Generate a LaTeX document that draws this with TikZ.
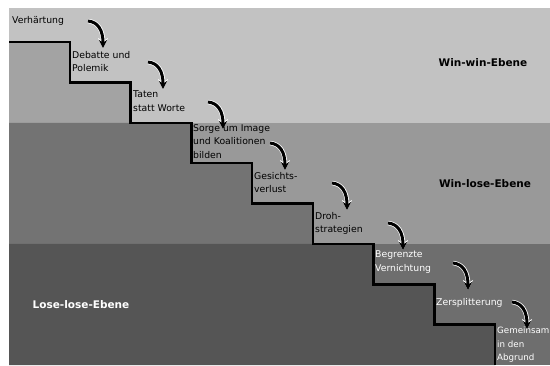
\documentclass[tikz,border=0pt]{standalone}
\usepackage{fontspec}
\setmainfont{DejaVu Sans}
\usetikzlibrary{arrows.meta}
\definecolor{topband}{HTML}{C2C2C2}
\definecolor{topunder}{HTML}{A3A3A3}
\definecolor{midband}{HTML}{999999}
\definecolor{midunder}{HTML}{737373}
\definecolor{botband}{HTML}{6E6E6E}
\definecolor{botunder}{HTML}{555555}
\tikzset{
  steplabel/.style={anchor=north west, inner sep=0pt, align=left, font=\fontsize{9.3}{13.5}\selectfont},
  levellabel/.style={inner sep=0pt, font=\fontsize{10.5}{13}\selectfont\bfseries},
  halo/.style={white, line width=4.5pt, -{Stealth[length=10pt,width=10pt]}},
  curvearrow/.style={black, line width=3pt, -{Stealth[length=8pt,width=8pt]}},
  stairline/.style={black, line width=2.5pt, line join=miter}
}
\begin{document}
\begin{tikzpicture}[x=1pt,y=-1pt]
\useasboundingbox (0,0) rectangle (550,365);
\fill[white] (0,0) rectangle (550,365);
% bands
\fill[topband] (9,8) rectangle (550,122.75);
\fill[midband] (9,122.75) rectangle (550,243.9);
\fill[botband] (9,243.9) rectangle (550,365);
% under stairs
\fill[topunder] (9,42) -- (69.75,42) -- (69.75,82.4) -- (130.5,82.4) -- (130.5,122.75) -- (9,122.75) -- cycle;
\fill[midunder] (9,122.75) -- (191.25,122.75) -- (191.25,163.1) -- (252,163.1) -- (252,203.5) -- (312.75,203.5) -- (312.75,243.9) -- (9,243.9) -- cycle;
\fill[botunder] (9,243.9) -- (373.5,243.9) -- (373.5,284.25) -- (434.25,284.25) -- (434.25,324.6) -- (495,324.6) -- (495,365) -- (9,365) -- cycle;
% stair line
\draw[stairline] (9,42) -- (69.75,42) -- (69.75,82.4) -- (130.5,82.4) -- (130.5,122.75) -- (191.25,122.75) -- (191.25,163.1) -- (252,163.1) -- (252,203.5) -- (312.75,203.5) -- (312.75,243.9) -- (373.5,243.9) -- (373.5,284.25) -- (434.25,284.25) -- (434.25,324.6) -- (495,324.6) -- (495,365);
% step labels
\node[steplabel] (l0) at (12,16) {Verhärtung};
\node[steplabel] (l1) at (72,51) {Debatte und\\Polemik};
\node[steplabel] (l2) at (133,91) {Taten\\statt Worte};
\node[steplabel] (l3) at (193,124) {Sorge um Image\\und Koalitionen\\bilden};
\node[steplabel] (l4) at (254,172) {Gesichts-\\verlust};
\node[steplabel] (l5) at (315,212) {Droh-\\strategien};
\node[steplabel, white] (l6) at (375,251) {Begrenzte\\Vernichtung};
\node[steplabel, white] (l7) at (436,298) {Zersplitterung};
\node[steplabel, white, font=\fontsize{8.7}{13.5}\selectfont] (l8) at (497,327) {Gemeinsam\\in den\\Abgrund};
% level labels
\node[levellabel] (w1) at (483,63) {Win-win-Ebene};
\node[levellabel] (w2) at (485,184) {Win-lose-Ebene};
\node[levellabel, white] (w3) at (81,305) {Lose-lose-Ebene};
% arrows
\foreach \i/\x/\y in {1/88/21, 2/148/62, 3/208/102, 4/270/143, 5/332/183, 6/388/223, 7/453/263, 8/512/302}{
  \coordinate (s\i) at (\x,\y);
  \coordinate (c\i) at (\x+10,\y+1);
  \coordinate (d\i) at (\x+15,\y+9);
  \coordinate (e\i) at (\x+15,\y+27);
  \draw[halo] (s\i) .. controls (c\i) and (d\i) .. (e\i);
  \draw[curvearrow] (s\i) .. controls (c\i) and (d\i) .. (e\i);
}
\end{tikzpicture}
\end{document}
